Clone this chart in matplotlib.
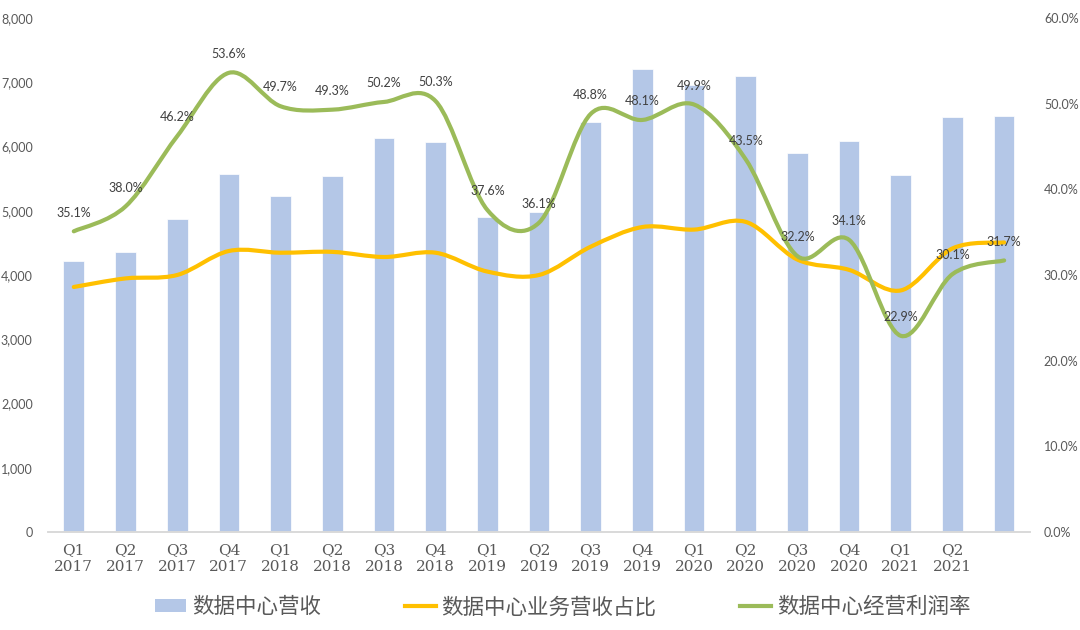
import numpy as np
import matplotlib
matplotlib.use("Agg")
import matplotlib.pyplot as plt
from matplotlib.path import Path
from matplotlib.patches import PathPatch, Patch
from matplotlib.lines import Line2D
from matplotlib.ticker import FuncFormatter, MultipleLocator

plt.rcParams['font.family'] = ['Lato', 'Noto Sans CJK SC', 'DejaVu Sans']

# quarters (the last bar has no label in the source chart)
quarters = ['Q1\n2017', 'Q2\n2017', 'Q3\n2017', 'Q4\n2017',
            'Q1\n2018', 'Q2\n2018', 'Q3\n2018', 'Q4\n2018',
            'Q1\n2019', 'Q2\n2019', 'Q3\n2019', 'Q4\n2019',
            'Q1\n2020', 'Q2\n2020', 'Q3\n2020', 'Q4\n2020',
            'Q1\n2021', 'Q2\n2021', '']

# data center revenue (bars, left axis)
revenue = [4220, 4360, 4870, 5570, 5230, 5540, 6130, 6070, 4900, 4980,
           6380, 7210, 6960, 7100, 5900, 6090, 5560, 6460, 6480]

# data center share of revenue, % (yellow line, right axis)
rev_share = [28.6, 29.6, 30.0, 32.8, 32.6, 32.7, 32.1, 32.6, 30.4, 30.0,
             33.3, 35.6, 35.3, 36.2, 31.8, 30.6, 28.2, 33.1, 33.8]

# data center operating margin, % (green line, right axis)
op_margin = [35.1, 38.0, 46.2, 53.6, 49.7, 49.3, 50.2, 50.3, 37.6, 36.1,
             48.8, 48.1, 49.9, 43.5, 32.2, 34.1, 22.9, 30.1, 31.7]

BAR_COLOR = '#B4C7E7'
YELLOW = '#FFC000'
GREEN = '#9BBB59'
TEXT_GRAY = '#595959'


# Excel-like smoothed line: cubic Bezier segments through the data points
def smooth_path(xs, ys):
    pts = np.column_stack([xs, ys]).astype(float)
    n = len(pts)
    verts = [pts[0]]
    codes = [Path.MOVETO]
    for i in range(n - 1):
        p0 = pts[i - 1] if i > 0 else pts[i]
        p1 = pts[i]
        p2 = pts[i + 1]
        p3 = pts[i + 2] if i + 2 < n else pts[i + 1]
        verts += [p1 + (p2 - p0) / 6, p2 - (p3 - p1) / 6, p2]
        codes += [Path.CURVE4] * 3
    return Path(verts, codes)


fig = plt.figure(figsize=(10.8, 6.3), dpi=100)
ax = fig.add_axes([0.0444, 0.1556, 0.9093, 0.8158])
ax2 = ax.twinx()

x = np.arange(len(revenue))
ax.bar(x, revenue, width=0.4, color=BAR_COLOR, edgecolor='white', linewidth=0.5)

ax.set_xlim(-0.5, len(revenue) - 0.5)
ax.set_ylim(0, 8000)
ax.yaxis.set_major_locator(MultipleLocator(1000))
ax.yaxis.set_major_formatter(FuncFormatter(lambda v, p: f'{int(v):,}'))
ax.set_xticks(x)
ax.set_xticklabels(quarters, fontfamily=['DejaVu Serif', 'Liberation Serif'],
                   fontsize=11, color=TEXT_GRAY, linespacing=1.25)
ax.tick_params(axis='x', length=0, pad=8)
ax.tick_params(axis='y', length=0, pad=11, labelsize=9, labelcolor=TEXT_GRAY)

ax2.set_ylim(0, 60)
ax2.yaxis.set_major_locator(MultipleLocator(10))
ax2.yaxis.set_major_formatter(FuncFormatter(lambda v, p: f'{v:.1f}%'))
ax2.tick_params(axis='y', length=0, pad=10, labelsize=9, labelcolor=TEXT_GRAY)

for a in (ax, ax2):
    for side in ('top', 'left', 'right'):
        a.spines[side].set_visible(False)
    a.spines['bottom'].set_color('#D9D9D9')
    a.spines['bottom'].set_linewidth(1.2)

ax2.add_patch(PathPatch(smooth_path(x, rev_share), fill=False,
                        edgecolor=YELLOW, linewidth=3, capstyle='round'))
ax2.add_patch(PathPatch(smooth_path(x, op_margin), fill=False,
                        edgecolor=GREEN, linewidth=3, capstyle='round'))

for xi, v in zip(x, op_margin):
    ax2.annotate(f'{v:.1f}%', (xi, v), xytext=(0, 13.5), textcoords='offset points',
                 ha='center', va='center', fontsize=9, color='#404040')

handles = [Patch(facecolor=BAR_COLOR, edgecolor='none'),
           Line2D([], [], color=YELLOW, linewidth=3),
           Line2D([], [], color=GREEN, linewidth=3)]
labels = ['数据中心营收', '数据中心业务营收占比', '数据中心经营利润率']
fig.legend(handles, labels, loc='center', bbox_to_anchor=(0.521, 0.036), ncol=3,
           frameon=False, prop={'family': ['Noto Sans CJK SC'], 'size': 15.5},
           labelcolor=TEXT_GRAY, handlelength=1.45, handleheight=0.55,
           handletextpad=0.25, columnspacing=3.9)

fig.savefig('out.png', dpi=100)
